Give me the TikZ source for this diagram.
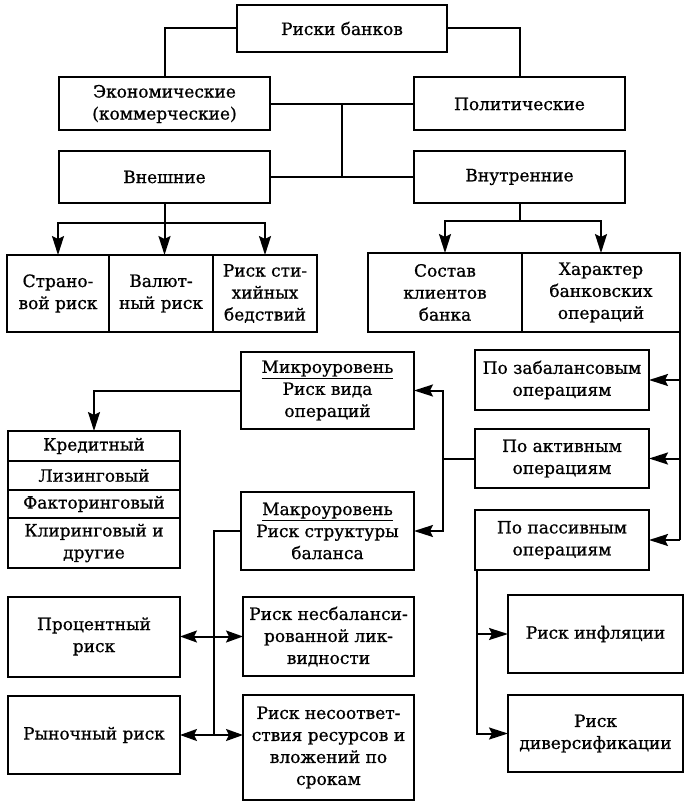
\documentclass[tikz,border=0pt]{standalone}
\usepackage{fontspec}
\setmainfont{DejaVu Serif}[FakeBold=0.8]
\usetikzlibrary{positioning,arrows.meta,calc}
\tikzstyle{box} = [rectangle, draw=black, line width=2pt, align=center, inner sep=2pt, outer sep=0pt, font=\fontsize{17}{22}\selectfont]
\tikzstyle{link} = [line width=2pt]
\tikzstyle{arrow} = [line width=2pt,-{Stealth[length=19pt,width=12pt,inset=3pt]}]
\tikzstyle{double-arrow} = [line width=2pt,{Stealth[length=17pt,width=12pt,inset=3pt]}-{Stealth[length=17pt,width=12pt,inset=3pt]}]

\begin{document}
\begin{tikzpicture}[x=1pt,y=1pt]
        \useasboundingbox (0,0) rectangle (685,-805);
        \node (bank-risks) [box, minimum width=210pt, minimum height=47pt] at (342,-28.5) {Риски банков};
        \node (economic) [box, minimum width=211pt, minimum height=53pt] at (164.5,-104) {Экономические\\(коммерческие)};
        \node (political) [box, minimum width=211pt, minimum height=53pt] at (519.5,-104) {Политические};
        \node (external) [box, minimum width=211pt, minimum height=52pt] at (164.5,-177) {Внешние};
        \node (internal) [box, minimum width=211pt, minimum height=52pt] at (519.5,-177) {Внутренние};
        \node (country-risk) [box, minimum width=102pt, minimum height=77pt] at (58,-293.5) {Страно-\\вой риск};
        \node (currency-risk) [box, minimum width=104pt, minimum height=77pt, right=0pt of country-risk] {Валют-\\ный риск};
        \node (disaster-risk) [box, minimum width=104pt, minimum height=77pt, right=0pt of currency-risk] {Риск сти-\\хийных\\бедствий};
        \node (client-base) [box, minimum width=154pt, minimum height=79pt] at (445,-292.5) {Состав\\клиентов\\банка};
        \node (operations-nature) [box, minimum width=158pt, minimum height=79pt, right=0pt of client-base] {Характер\\банковских\\операций};
        \node (micro-level) [box, minimum width=173pt, minimum height=77pt] at (327.5,-390.5) {\underline{Микроуровень}\\Риск вида\\операций};
        \node (macro-level) [box, minimum width=173pt, minimum height=78pt] at (327.5,-531) {\underline{Макроуровень}\\Риск структуры\\баланса};
        \node (off-balance) [box, minimum width=174pt, minimum height=60pt] at (562,-380) {По забалансовым\\операциям};
        \node (active-ops) [box, minimum width=174pt, minimum height=59pt] at (562,-458.5) {По активным\\операциям};
        \node (passive-ops) [box, minimum width=174pt, minimum height=60pt] at (562,-540) {По пассивным\\операциям};
        \node (credit) [box, minimum width=172pt, minimum height=30pt] at (94,-446) {Кредитный};
        \node (leasing) [box, minimum width=172pt, minimum height=29pt, below=0pt of credit] {Лизинговый};
        \node (factoring) [box, minimum width=172pt, minimum height=28pt, below=0pt of leasing] {Факторинговый};
        \node (clearing) [box, minimum width=172pt, minimum height=50pt, below=0pt of factoring] {Клиринговый и\\другие};
        \node (interest-risk) [box, minimum width=172pt, minimum height=80pt] at (94,-636.5) {Процентный\\риск};
        \node (liquidity-risk) [box, minimum width=171pt, minimum height=79pt] at (328.5,-636.5) {Риск несбаланси-\\рованной лик-\\видности};
        \node (market-risk) [box, minimum width=172pt, minimum height=78pt] at (94,-735) {Рыночный риск};
        \node (mismatch-risk) [box, minimum width=171pt, minimum height=105pt] at (328.5,-747.5) {Риск несоответ-\\ствия ресурсов и\\вложений по\\срокам};
        \node (inflation-risk) [box, minimum width=175pt, minimum height=78pt] at (595.5,-634) {Риск инфляции};
        \node (diversification-risk) [box, minimum width=175pt, minimum height=77pt] at (595.5,-733.5) {Риск\\диверсификации};

        \coordinate (hub-top) at ($(economic.east)!0.5!(political.west)$);
        \coordinate (hub-bottom) at ($(external.east)!0.5!(internal.west)$);
        \coordinate (external-split) at ([yshift=-20pt]external.south);
        \coordinate (internal-split) at ([yshift=-18pt]internal.south);
        \coordinate (rail-right) at (operations-nature.south east |- passive-ops);
        \coordinate (rail-mid) at ([xshift=-32pt]active-ops.west);
        \coordinate (rail-left) at ([xshift=-27pt]macro-level.west |- market-risk);
        \coordinate (rail-low) at ([xshift=2pt]passive-ops.south west);

        \draw [link] (bank-risks.west) -| (economic.north);
        \draw [link] (bank-risks.east) -| (political.north);
        \draw [link] (economic) -- (political);
        \draw [link] (external) -- (internal);
        \draw [link] (hub-top) -- (hub-bottom);
        \draw [arrow] (external.south) -- (external-split) -| (country-risk.north);
        \draw [arrow] (external-split) -| (disaster-risk.north);
        \draw [arrow] (external.south) -- (external.south |- currency-risk.north);
        \draw [link] (internal.south) -- (internal-split);
        \draw [arrow] (internal-split) -| (client-base.north);
        \draw [arrow] (internal-split) -| (operations-nature.north);
        \draw [link] (operations-nature.south east) -- (rail-right);
        \draw [arrow] (operations-nature.south east |- off-balance) -- (off-balance.east);
        \draw [arrow] (operations-nature.south east |- active-ops) -- (active-ops.east);
        \draw [arrow] (rail-right) -- (passive-ops.east);
        \draw [link] (active-ops.west) -- (rail-mid);
        \draw [arrow] (rail-mid) |- (micro-level.east);
        \draw [arrow] (rail-mid) |- (macro-level.east);
        \draw [arrow] (micro-level.west) -| (credit.north);
        \draw [link] (macro-level.west) -| (rail-left);
        \draw [double-arrow] (interest-risk) -- (liquidity-risk);
        \draw [double-arrow] (market-risk.east) -- (market-risk.east -| mismatch-risk.west);
        \draw [arrow] (rail-low) |- (inflation-risk.west);
        \draw [arrow] (rail-low) |- (diversification-risk.west);
    \end{tikzpicture}
\end{document}
